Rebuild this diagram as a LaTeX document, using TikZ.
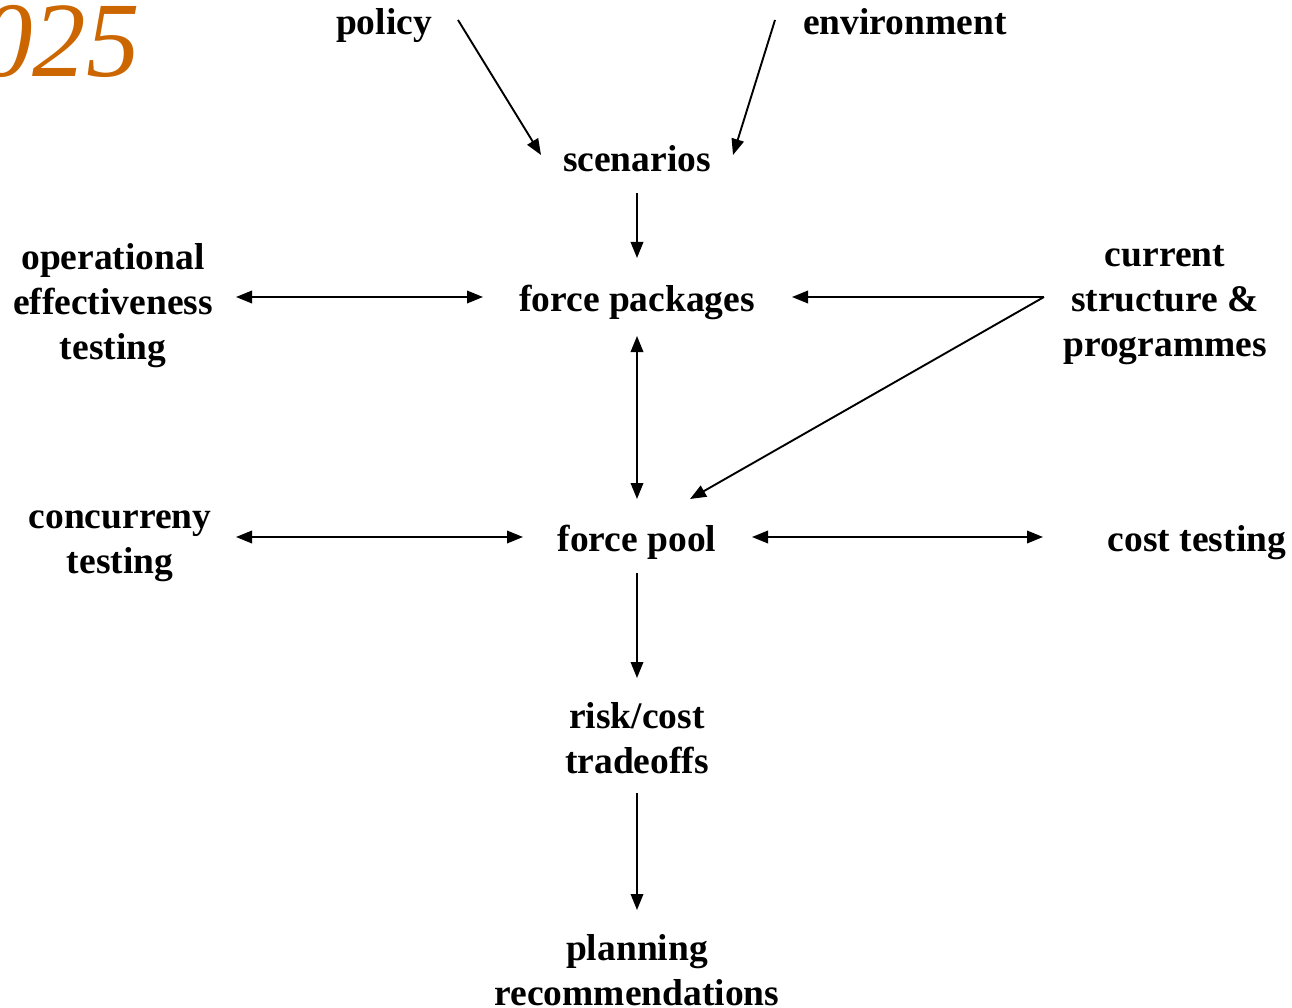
\documentclass[tikz,border=0pt]{standalone}
\usepackage{fontspec}
\setmainfont{Liberation Serif}
\usetikzlibrary{arrows.meta,calc}
\definecolor{yearorange}{HTML}{CC6600}
\begin{document}
\begin{tikzpicture}[x=1pt,y=-1pt,
  lbl/.style={font=\fontsize{37.5}{45}\selectfont\bfseries, align=center, inner sep=0pt},
  arr/.style={line width=1.9pt, -{Triangle[length=16pt,width=12.5pt]}},
  darr/.style={line width=1.9pt, {Triangle[length=16pt,width=12.5pt]}-{Triangle[length=16pt,width=12.5pt]}}]
\useasboundingbox (0,0) rectangle (1292,1008);
\node[font=\fontsize{107}{110}\selectfont\itshape, text=yearorange, anchor=base east, inner sep=0pt] (year) at (140,77) {025};
\node[lbl, anchor=base] (policy) at (384,34.5) {policy};
\node[lbl, anchor=base] (env) at (905,34.5) {environment};
\node[lbl, anchor=base] (scen) at (637,171.5) {scenarios};
\node[lbl, anchor=base] (fpk) at (637,311.5) {force packages};
\node[lbl] (ope) at (113,305.5) {operational\\effectiveness\\testing};
\node[lbl] (cur) at (1165,305.5) {current\\structure \&\\programmes};
\node[lbl] (conc) at (120,546.5) {concurreny\\testing};
\node[lbl, anchor=base] (fpool) at (637,551.5) {force pool};
\node[lbl, anchor=base] (cost) at (1197,551.5) {cost testing};
\node[lbl] (risk) at (637,738) {risk/cost\\tradeoffs};
\node[lbl] (plan) at (637,970.5) {planning\\recommendations};

\draw[arr] ($(policy.base)+(74,-14.5)$) -- ($(scen.base)+(-96,-16.5)$);
\draw[arr] ($(env.base)+(-130,-14.5)$) -- ($(scen.base)+(96,-16.5)$);
\draw[arr] ($(scen.base)+(0,21.5)$) -- ($(fpk.base)+(0,-53.5)$);
\draw[darr] ($(ope.center)+(123,-8.5)$) -- ($(fpk.base)+(-154,-14.5)$);
\draw[arr] ($(cur.center)+(-121,-8.5)$) -- ($(fpk.base)+(155,-14.5)$);
\draw[arr] ($(cur.center)+(-121,-8.5)$) -- ($(fpool.base)+(53,-52.5)$);
\draw[darr] ($(fpk.base)+(0,24.5)$) -- ($(fpool.base)+(0,-52.5)$);
\draw[darr] ($(conc.center)+(116,-9.5)$) -- ($(fpool.base)+(-114,-14.5)$);
\draw[darr] ($(fpool.base)+(115,-14.5)$) -- ($(cost.base)+(-154,-14.5)$);
\draw[arr] ($(fpool.base)+(0,21.5)$) -- ($(risk.center)+(0,-60)$);
\draw[arr] ($(risk.center)+(0,55)$) -- ($(plan.center)+(0,-60.5)$);
\end{tikzpicture}
\end{document}
